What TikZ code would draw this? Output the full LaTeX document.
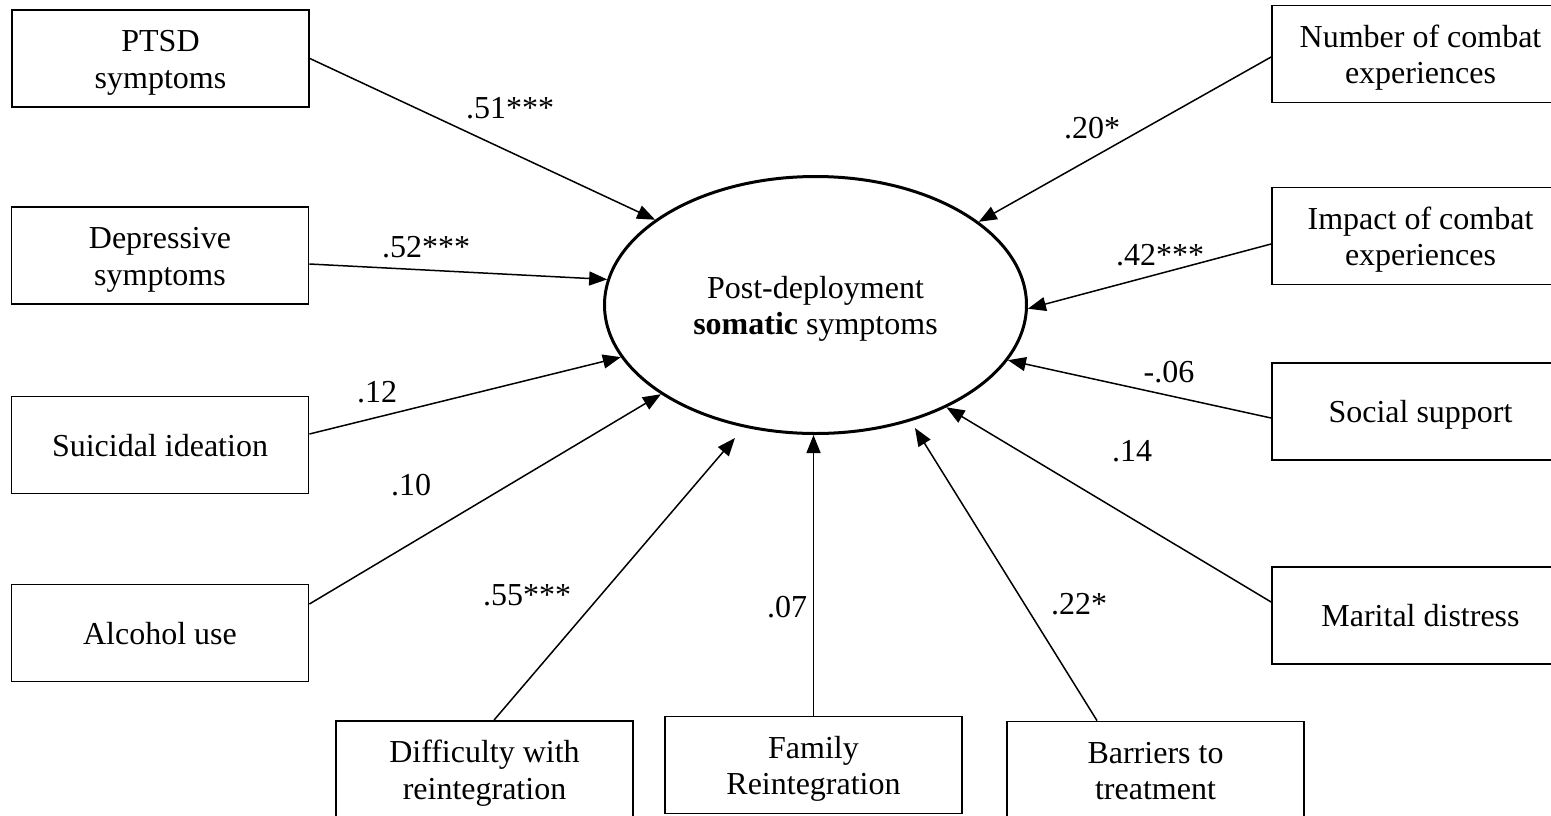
\documentclass[tikz,border=0pt]{standalone}
\usepackage{fontspec}
\setmainfont{Liberation Serif}
\usetikzlibrary{shapes.geometric,arrows.meta}

% text size used throughout the diagram
\newcommand{\diafont}{\fontsize{32}{36.5}\selectfont}
% two-line label with fixed top height and bottom depth
\newcommand{\twoline}[2]{\rule{0pt}{30pt}#1\\#2\rule[-7pt]{0pt}{7pt}}

\tikzset{
  var/.style={draw, line width=1.8pt, rectangle, minimum width=297pt,
    minimum height=97pt, inner sep=0pt, align=center, font=\diafont},
  oneline/.style={var, text height=22pt, text depth=0pt},
  latent/.style={draw, ellipse, line width=3pt, minimum width=422pt,
    minimum height=257pt, inner sep=0pt, align=center, font=\diafont},
  conn/.style={-{Triangle[length=18pt,width=14pt]}, line width=1.5pt},
  coef/.style={anchor=base, inner sep=0pt, font=\diafont}
}

\begin{document}
\begin{tikzpicture}[x=1pt, y=-1pt]
  \path[use as bounding box, clip] (0,0) rectangle (1551,815);

  % outcome
  \node[latent] (ell) at (815.5,305) {\twoline{Post-deployment}{\textbf{somatic} symptoms}};

  % predictors, left column
  \node[var] (ptsd) at (160.5,58.5) {\twoline{PTSD}{symptoms}};
  \node[var] (dep)  at (160,255.5) {\twoline{Depressive}{symptoms}};
  \node[oneline] (sui) at (160,445) {Suicidal ideation};
  \node[oneline] (alc) at (160,633) {Alcohol use};

  % predictors, bottom row
  \node[var] (dif) at (484.5,769.5) {\twoline{Difficulty with}{reintegration}};
  \node[var] (fam) at (813.5,765) {\twoline{Family}{Reintegration}};
  \node[var] (bar) at (1155.5,770) {\twoline{Barriers to}{treatment}};

  % predictors, right column
  \node[var] (num) at (1420.5,54) {\twoline{Number of combat}{experiences}};
  \node[var] (imp) at (1420.5,236) {\twoline{Impact of combat}{experiences}};
  \node[oneline] (soc) at (1420.5,411.5) {Social support};
  \node[oneline] (mar) at (1420.5,615.5) {Marital distress};

  % arrow ends that stop short of the ellipse
  \coordinate (difTip) at (735,438);
  \coordinate (barTip) at (915,428);

  % paths
  \draw[conn] (ptsd.east) -- (ell.152.5);
  \draw[conn] ([yshift=-8.5pt]dep.east) -- (ell.173.7);
  \draw[conn] ([yshift=11pt]sui.east) -- (ell.195.3);
  \draw[conn] ([yshift=29pt]alc.east) -- (ell.210);
  \draw[conn] ([xshift=9.5pt]dif.north) -- (difTip);
  \draw[conn] (fam.north) -- (fam.north |- ell.south);
  \draw[conn] ([xshift=-58.5pt]bar.north) -- (barTip);
  \draw[conn] ([yshift=13.5pt]mar.west) -- (ell.322);
  \draw[conn] ([yshift=-6.5pt]soc.west) -- (ell.344.4);
  \draw[conn] ([yshift=-8pt]imp.west) -- (ell.359.2);
  \draw[conn] ([yshift=-3pt]num.west) -- (ell.27.6);

  % path coefficients
  \node[coef] (c1)  at (510,118)  {.51***};
  \node[coef] (c2)  at (426,257)  {.52***};
  \node[coef] (c3)  at (377,402)  {.12};
  \node[coef] (c4)  at (411,495)  {.10};
  \node[coef] (c5)  at (527,605)  {.55***};
  \node[coef] (c6)  at (787,617)  {.07};
  \node[coef] (c7)  at (1079,614) {.22*};
  \node[coef] (c8)  at (1132,461) {.14};
  \node[coef] (c9)  at (1169,382) {-.06};
  \node[coef] (c10) at (1160,265) {.42***};
  \node[coef] (c11) at (1092,138) {.20*};
\end{tikzpicture}
\end{document}
